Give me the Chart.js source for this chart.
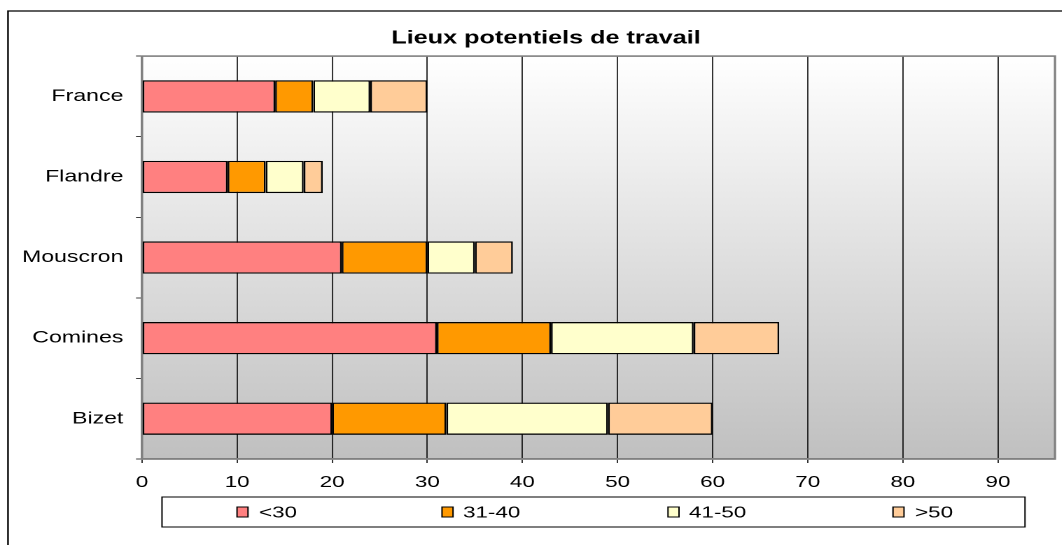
<!DOCTYPE html>
<html>
<head>
<meta charset="utf-8">
<script src="https://cdn.jsdelivr.net/npm/chart.js@4"></script>
<style>
  html, body { margin: 0; padding: 0; background: #fff; overflow: hidden; }
  #wrap { width: 780px; height: 545px; transform: scaleX(1.4); transform-origin: 0 0; }
</style>
</head>
<body>
<div id="wrap"><canvas id="chart" width="780" height="545"></canvas></div>
<script>
// Le graphique d'origine est étiré horizontalement : on dessine sur 780px puis on élargit x1.4
const STRETCH = 1.4;
const sx = v => v / STRETCH;

const categories = ["France", "Flandre", "Mouscron", "Comines", "Bizet"];
const ageLabels = ["<30", "31-40", "41-50", ">50"];
const under30 = [14, 9, 21, 31, 20];
const from31to40 = [4, 4, 9, 12, 12];
const from41to50 = [6, 4, 5, 15, 17];
const over50 = [6, 2, 4, 9, 11];
const xTickValues = [0, 10, 20, 30, 40, 50, 60, 70, 80, 90];
const xMax = 96;

const colors = ["#FF8080", "#FF9900", "#FFFFCC", "#FFCC99"];
const FONT = "'Liberation Sans', Arial, sans-serif";

Chart.defaults.font.family = FONT;
Chart.defaults.font.size = 16;
Chart.defaults.color = "#000";

// Fond dégradé, cadre extérieur et bordure de la zone de tracé
const backgroundPlugin = {
    id: "background",
    beforeDraw(chart) {
        const { ctx, chartArea: a } = chart;
        ctx.save();
        ctx.fillStyle = "#fff";
        ctx.fillRect(0, 0, chart.width, chart.height);
        const grad = ctx.createLinearGradient(0, a.top, 0, a.bottom);
        grad.addColorStop(0, "#ffffff");
        grad.addColorStop(1, "#c0c0c0");
        ctx.fillStyle = grad;
        ctx.fillRect(a.left, a.top, a.right - a.left, a.bottom - a.top);
        // cadre extérieur (gauche + haut)
        ctx.strokeStyle = "#000";
        ctx.lineWidth = 1.2;
        ctx.beginPath();
        ctx.moveTo(sx(8), chart.height + 5);
        ctx.lineTo(sx(8), 11);
        ctx.lineTo(chart.width + 5, 11);
        ctx.stroke();
        ctx.restore();
    },
    beforeDatasetsDraw(chart) {
        const { ctx, chartArea: a } = chart;
        ctx.save();
        ctx.strokeStyle = "#808080";
        ctx.lineWidth = 1.6;
        ctx.strokeRect(a.left, a.top, a.right - a.left, a.bottom - a.top);
        ctx.restore();
    }
};

// Légende encadrée en bas, comme dans Excel
const legendPlugin = {
    id: "boxLegend",
    afterDraw(chart) {
        const { ctx } = chart;
        const boxX = [237, 442, 668, 893];
        const textX = [259, 463, 689, 915];
        const top = 497, bottom = 527, mid = 512;
        ctx.save();
        ctx.fillStyle = "#fff";
        ctx.fillRect(sx(162), top, sx(1025) - sx(162), bottom - top);
        ctx.strokeStyle = "#000";
        ctx.lineWidth = 1;
        ctx.strokeRect(sx(162), top, sx(1025) - sx(162), bottom - top);
        ctx.font = "16px " + FONT;
        ctx.textBaseline = "middle";
        chart.data.datasets.forEach((ds, i) => {
            ctx.fillStyle = ds.backgroundColor;
            ctx.fillRect(sx(boxX[i]), mid - 5, sx(11), 10);
            ctx.strokeRect(sx(boxX[i]), mid - 5, sx(11), 10);
            ctx.fillStyle = "#000";
            ctx.fillText(ds.label, sx(textX[i]), mid + 1);
        });
        ctx.restore();
    }
};

const seriesValues = [under30, from31to40, from41to50, over50];

new Chart(document.getElementById("chart"), {
    type: "bar",
    data: {
        labels: categories,
        datasets: seriesValues.map((values, i) => ({
            label: ageLabels[i],
            data: values,
            backgroundColor: colors[i],
            borderColor: "#000",
            borderWidth: 1.3,
            borderSkipped: false,
            barPercentage: 0.4,
            categoryPercentage: 1
        }))
    },
    options: {
        responsive: false,
        devicePixelRatio: 2,
        animation: false,
        indexAxis: "y",
        layout: {
            padding: { top: 0, left: 0, right: 0, bottom: 50 }
        },
        scales: {
            x: {
                stacked: true,
                min: 0,
                max: xMax,
                afterBuildTicks: (scale) => {
                    scale.ticks = xTickValues.map(v => ({ value: v }));
                },
                afterFit: (scale) => { scale.height = 36; },
                grid: { color: "#000", lineWidth: 0.8, tickLength: 4 },
                border: { color: "#808080", width: 1.6 },
                ticks: { maxRotation: 0, padding: 10, font: { size: 16 } }
            },
            y: {
                stacked: true,
                afterFit: (scale) => { scale.width = sx(142); },
                grid: { drawOnChartArea: false, color: "#404040", tickLength: sx(6), offset: true },
                border: { color: "#808080", width: 1.6 },
                ticks: { padding: 9, font: { size: 16.5 } }
            },
            // axe vide à droite : réserve la marge sans décentrer le titre
            yRight: {
                type: "category",
                position: "right",
                afterFit: (scale) => { scale.width = 780 - sx(1055); },
                grid: { display: false },
                border: { display: false },
                ticks: { display: false }
            }
        },
        plugins: {
            legend: { display: false },
            tooltip: { enabled: false },
            title: {
                display: true,
                text: "Lieux potentiels de travail",
                color: "#000",
                font: { size: 18, weight: "bold" },
                padding: { top: 27.5, bottom: 7 }
            }
        }
    },
    plugins: [backgroundPlugin, legendPlugin]
});
</script>
</body>
</html>
